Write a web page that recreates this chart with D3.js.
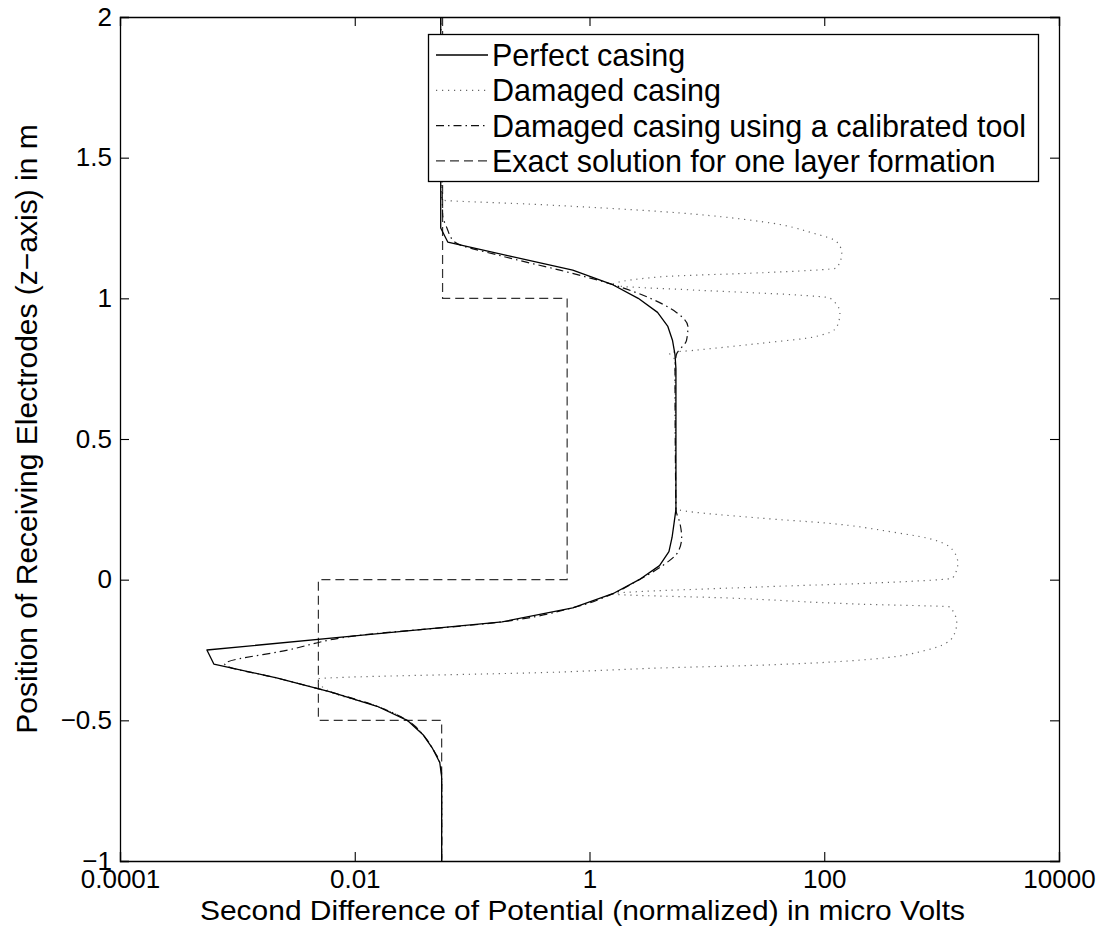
<!DOCTYPE html>
<html>
<head>
<meta charset="utf-8">
<script src="https://cdn.jsdelivr.net/npm/d3@7"></script>
<style>
  body { margin: 0; background: #fff; }
  svg { display: block; }
  text { font-family: "Liberation Sans", Arial, Helvetica, sans-serif; fill: #000; }
</style>
</head>
<body>
<div id="chart"></div>
<script>
// z positions (m) and second difference values (micro Volts)
const perfectZ = [2, 1.3, 1.25, 1.2, 1.15, 1.1, 1.05, 1.0, 0.95, 0.9, 0.85, 0.8, 0.75, 0.25, 0.2, 0.15, 0.1, 0.05, 0, -0.05, -0.1, -0.15, -0.2, -0.25, -0.3, -0.35, -0.4, -0.45, -0.5, -0.55, -0.6, -0.65, -0.7, -1]
const perfectV = [0.054, 0.054, 0.054, 0.062, 0.21, 0.72, 1.55, 2.6, 3.8, 4.65, 5.1, 5.35, 5.45, 5.45, 5.25, 5.05, 4.75, 3.95, 2.65, 1.58, 0.72, 0.18, 0.01, 0.00055, 0.00063, 0.0022, 0.0063, 0.0155, 0.028, 0.038, 0.046, 0.053, 0.055, 0.055]

const damagedZ = [2, 1.35, 1.335, 1.308, 1.272, 1.232, 1.201, 1.161, 1.108, 1.091, 1.077, 1.047, 1.029, 1.012, 1.001, 0.948, 0.898, 0.862, 0.841, 0.816, 0.806, 0.78, 0.25, 0.247, 0.219, 0.201, 0.169, 0.148, 0.105, 0.059, 0.006, -0.009, -0.026, -0.051, -0.065, -0.087, -0.097, -0.154, -0.204, -0.25, -0.286, -0.304, -0.314, -0.328, -0.353, -0.4, -0.45, -0.5, -0.55, -0.6, -0.65, -0.7, -1]
const damagedV = [0.054, 0.055, 0.31, 4.2, 30, 80, 128, 141, 128, 30, 4.2, 1.55, 8.2, 58, 112, 136, 128, 80, 30, 8.2, 4.8, 5.35, 5.45, 5.9, 28, 105, 384, 748, 1245, 1374, 1245, 384, 28, 1.58, 14.8, 201, 1175, 1346, 1245, 748, 201, 28, 4, 0.59, 0.0048, 0.0063, 0.0155, 0.028, 0.038, 0.046, 0.053, 0.055, 0.055]

const calibratedZ = perfectZ
const calibratedV = [0.054, 0.056, 0.061, 0.071, 0.18, 0.56, 1.55, 3.3, 5.5, 6.9, 6.7, 5.5, 5.35, 5.45, 5.9, 6.1, 5.7, 4.2, 2.65, 1.58, 0.72, 0.18, 0.01, 0.0027, 0.00078, 0.0022, 0.0063, 0.0155, 0.028, 0.038, 0.046, 0.053, 0.055, 0.055]

// one layer formation: layer boundaries and value in each layer
const exactBounds = [2, 1, 0, -0.5, -1]
const exactV = [0.056, 0.645, 0.0049, 0.055]

const xTicks = [1e-4, 1e-2, 1, 100, 1e4]
const xTickLabels = ['0.0001', '0.01', '1', '100', '10000']
const yTicks = [-1, -0.5, 0, 0.5, 1, 1.5, 2]
const yTickLabels = ['\u22121', '\u22120.5', '0', '0.5', '1', '1.5', '2']

const legendLabels = ['Perfect casing', 'Damaged casing', 'Damaged casing using a calibrated tool', 'Exact solution for one layer formation']

const W = 1106, H = 927
const mLeft = 120, mRight = 1059, mTop = 17, mBottom = 861

let x = d3.scaleLog().domain([1e-4, 1e4]).range([mLeft, mRight])
let y = d3.scaleLinear().domain([-1, 2]).range([mBottom, mTop])

let svg = d3.select('#chart').append('svg')
  .attr('width', W)
  .attr('height', H)

let exactPts = []
exactV.forEach((v, i) => {
  exactPts.push([exactBounds[i], v])
  exactPts.push([exactBounds[i + 1], v])
})

let zip = (zs, vs) => zs.map((z, i) => [z, vs[i]])

let lineLin = d3.line().x(d => x(d[1])).y(d => y(d[0]))
let lineSmooth = d3.line().x(d => x(d[1])).y(d => y(d[0])).curve(d3.curveMonotoneY)

const styles = [
  {stroke: '#000', width: 1.3, dash: null},
  {stroke: '#666', width: 1.2, dash: '1.2,4.8'},
  {stroke: '#111', width: 1.2, dash: '8,4,1.5,4'},
  {stroke: '#333', width: 1.2, dash: '9,5'}
]

let plot = svg.append('g')

plot.append('path').datum(exactPts)
  .attr('fill', 'none').attr('stroke', styles[3].stroke).attr('stroke-width', styles[3].width)
  .attr('stroke-dasharray', styles[3].dash).attr('d', lineLin)

plot.append('path').datum(zip(damagedZ, damagedV))
  .attr('fill', 'none').attr('stroke', styles[1].stroke).attr('stroke-width', styles[1].width)
  .attr('stroke-dasharray', styles[1].dash).attr('d', lineSmooth)

plot.append('path').datum(zip(calibratedZ, calibratedV))
  .attr('fill', 'none').attr('stroke', styles[2].stroke).attr('stroke-width', styles[2].width)
  .attr('stroke-dasharray', styles[2].dash).attr('d', lineSmooth)

plot.append('path').datum(zip(perfectZ, perfectV))
  .attr('fill', 'none').attr('stroke', styles[0].stroke).attr('stroke-width', styles[0].width)
  .attr('stroke-linejoin', 'round').attr('d', lineLin)

// axes box with inward ticks
let axB = svg.append('g').attr('transform', `translate(0,${mBottom})`)
  .call(d3.axisBottom(x).tickValues(xTicks).tickFormat((d, i) => xTickLabels[i]).tickSize(-9).tickPadding(9))
let axT = svg.append('g').attr('transform', `translate(0,${mTop})`)
  .call(d3.axisTop(x).tickValues(xTicks).tickFormat('').tickSize(-9))
let axL = svg.append('g').attr('transform', `translate(${mLeft},0)`)
  .call(d3.axisLeft(y).tickValues(yTicks).tickFormat((d, i) => yTickLabels[i]).tickSize(-9).tickPadding(8))
let axR = svg.append('g').attr('transform', `translate(${mRight},0)`)
  .call(d3.axisRight(y).tickValues(yTicks).tickFormat('').tickSize(-9))

;[axB, axT, axL, axR].forEach(a => {
  a.selectAll('.domain').attr('stroke', '#000').attr('stroke-width', 1.3)
  a.selectAll('.tick line').attr('stroke', '#000').attr('stroke-width', 1.1)
  a.selectAll('text').style('font-size', '26px').attr('fill', '#000')
})

// axis titles
svg.append('text')
  .attr('x', (mLeft + mRight) / 2 - 7)
  .attr('y', 920)
  .attr('text-anchor', 'middle')
  .attr('textLength', 765)
  .attr('lengthAdjust', 'spacingAndGlyphs')
  .style('font-size', '28px')
  .text('Second Difference of Potential (normalized) in micro Volts')

svg.append('text')
  .attr('transform', `translate(37,${(mTop + mBottom) / 2 - 10}) rotate(-90)`)
  .attr('text-anchor', 'middle')
  .style('font-size', '30px')
  .text('Position of Receiving Electrodes (z\u2212axis) in m')

// legend
let legend = svg.append('g')
legend.append('rect')
  .attr('x', 428.5).attr('y', 34.5)
  .attr('width', 610).attr('height', 147)
  .attr('fill', '#fff').attr('stroke', '#000').attr('stroke-width', 1.3)

legendLabels.forEach((lab, i) => {
  let ly = 55 + i * 35.3
  legend.append('line')
    .attr('x1', 436).attr('x2', 488).attr('y1', ly).attr('y2', ly)
    .attr('stroke', styles[i].stroke).attr('stroke-width', styles[i].width)
    .attr('stroke-dasharray', styles[i].dash)
  legend.append('text')
    .attr('x', 492).attr('y', ly + 11)
    .style('font-size', '30.5px')
    .text(lab)
})
</script>
</body>
</html>
